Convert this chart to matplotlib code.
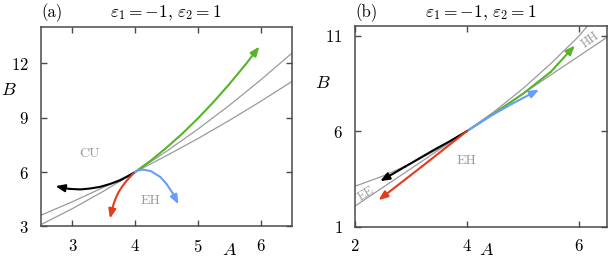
import numpy as np
import matplotlib
matplotlib.use('Agg')
import matplotlib.pyplot as plt

plt.rcParams['font.family'] = 'serif'
plt.rcParams['font.serif'] = ['cmr10']
plt.rcParams['mathtext.fontset'] = 'cm'
plt.rcParams['axes.formatter.use_mathtext'] = True
plt.rcParams['axes.unicode_minus'] = False

green = '#57b42a'
red = '#e53a1c'
blue = '#6a9cff'
gray = '#9a9a9a'
spine_col = '#4a4a4a'

# ---- panel (a) ----
a_gray1_A = [2.5, 3.0, 3.5, 4.0, 4.5, 5.0, 5.5, 6.0, 6.5]
a_gray1_B = [3.10, 3.98, 4.95, 6.0, 7.14, 8.36, 9.67, 11.07, 12.55]
a_gray2_A = [2.5, 3.0, 3.5, 4.0, 4.5, 5.0, 5.5, 6.0, 6.5]
a_gray2_B = [3.62, 4.36, 5.16, 6.0, 6.90, 7.84, 8.84, 9.89, 10.99]

a_green_A = [4.0, 4.25, 4.5, 4.75, 5.0, 5.25, 5.5, 5.75, 5.98]
a_green_B = [6.0, 6.63, 7.34, 8.11, 8.95, 9.86, 10.84, 11.88, 12.91]
a_black_A = [4.0, 3.88, 3.76, 3.6, 3.44, 3.28, 3.13, 2.95, 2.73]
a_black_B = [6.0, 5.76, 5.54, 5.34, 5.18, 5.09, 5.04, 5.07, 5.22]
a_red_A = [4.0, 3.96, 3.92, 3.85, 3.79, 3.74, 3.70, 3.66, 3.63, 3.60]
a_red_B = [6.0, 5.88, 5.73, 5.46, 5.18, 4.91, 4.63, 4.27, 3.90, 3.44]
a_blue_A = [4.0, 4.06, 4.13, 4.25, 4.4, 4.5, 4.6, 4.69]
a_blue_B = [6.0, 6.10, 6.13, 6.05, 5.73, 5.35, 4.82, 4.22]

# ---- panel (b) ----
b_gray1_A = [2.0, 2.5, 3.0, 3.5, 4.0, 4.5, 5.0, 5.5, 6.0, 6.2]
b_gray1_B = [3.12, 3.65, 4.30, 5.09, 6.0, 7.05, 8.22, 9.53, 10.96, 11.65]
b_gray2_A = [2.0, 4.0, 6.5]
b_gray2_B = [2.08, 6.0, 10.9]

b_green_A = [4.0, 4.5, 5.0, 5.5, 5.93]
b_green_B = [6.0, 6.95, 7.95, 9.1, 10.48]
b_blue_A = [4.0, 4.4, 4.8, 5.29]
b_blue_B = [6.0, 6.75, 7.42, 8.17]
b_black_A = [4.0, 3.7, 3.4, 2.9, 2.45]
b_black_B = [6.0, 5.48, 5.0, 4.15, 3.38]
b_red_A = [4.0, 3.2, 2.42]
b_red_B = [6.0, 4.16, 2.39]


def curve(ax, xs, ys, color):
    ax.plot(xs[:-1], ys[:-1], color=color, lw=1.5, solid_capstyle='round',
            solid_joinstyle='round', zorder=3)
    ax.annotate('', xy=(xs[-1], ys[-1]), xytext=(xs[-2], ys[-2]),
                arrowprops=dict(arrowstyle='-|>,head_length=0.55,head_width=0.22',
                                color=color, lw=1.5, shrinkA=0, shrinkB=0,
                                mutation_scale=10), zorder=3)


def style(ax):
    for s in ax.spines.values():
        s.set_color(spine_col)
        s.set_linewidth(1.1)
    ax.tick_params(direction='in', top=True, right=True, length=4, width=1.0,
                   color=spine_col, labelsize=12)
    ax.tick_params(axis='x', pad=8)
    ax.tick_params(axis='y', pad=9)


fig = plt.figure(figsize=(6.09, 2.6), dpi=100)

ax1 = fig.add_axes([0.0673, 0.129, 0.4122, 0.768])
ax1.plot(a_gray1_A, a_gray1_B, color=gray, lw=0.9)
ax1.plot(a_gray2_A, a_gray2_B, color=gray, lw=0.9)
curve(ax1, a_green_A, a_green_B, green)
curve(ax1, a_black_A, a_black_B, 'black')
curve(ax1, a_red_A, a_red_B, red)
curve(ax1, a_blue_A, a_blue_B, blue)
ax1.text(3.27, 6.97, 'CU', color=gray, fontsize=10, ha='center', va='center')
ax1.text(4.24, 4.4, 'EH', color=gray, fontsize=10, ha='center', va='center')
ax1.set_xlim(2.5, 6.5)
ax1.set_ylim(3, 14)
ax1.set_xticks([3, 4, 5, 6])
ax1.set_yticks([3, 6, 9, 12])
style(ax1)

ax2 = fig.add_axes([0.583, 0.128, 0.4132, 0.772])
ax2.plot(b_gray1_A, b_gray1_B, color=gray, lw=0.9)
ax2.plot(b_gray2_A, b_gray2_B, color=gray, lw=0.9)
curve(ax2, b_green_A, b_green_B, green)
curve(ax2, b_blue_A, b_blue_B, blue)
curve(ax2, b_black_A, b_black_B, 'black')
curve(ax2, b_red_A, b_red_B, red)
ax2.text(4.0, 4.44, 'EH', color=gray, fontsize=10, ha='center', va='center')
ax2.text(2.2, 2.72, 'EE', color=gray, fontsize=9, ha='center', va='center', rotation=32)
ax2.text(6.2, 10.75, 'HH', color=gray, fontsize=9, ha='center', va='center', rotation=36)
ax2.set_xlim(2, 6.5)
ax2.set_ylim(1, 11.5)
ax2.set_xticks([2, 4, 6])
ax2.set_yticks([1, 6, 11])
style(ax2)

# titles and axis labels
title = r'$\varepsilon_1=-1,\, \varepsilon_2=1$'
fig.text(41 / 609, 1 - 13 / 260, '(a)', fontsize=12, ha='left', va='center')
fig.text(166 / 609, 1 - 13 / 260, title, fontsize=12.5, ha='center', va='center')
fig.text(355 / 609, 1 - 13 / 260, '(b)', fontsize=12, ha='left', va='center')
fig.text(481 / 609, 1 - 13 / 260, title, fontsize=12.5, ha='center', va='center')

fig.text(9 / 609, 1 - 90 / 260, r'$B$', fontsize=13, ha='center', va='center')
fig.text(230 / 609, 1 - 250 / 260, r'$A$', fontsize=13, ha='center', va='center')
fig.text(323 / 609, 1 - 83 / 260, r'$B$', fontsize=13, ha='center', va='center')
fig.text(487 / 609, 1 - 250 / 260, r'$A$', fontsize=13, ha='center', va='center')

fig.savefig('out.png', dpi=100)
